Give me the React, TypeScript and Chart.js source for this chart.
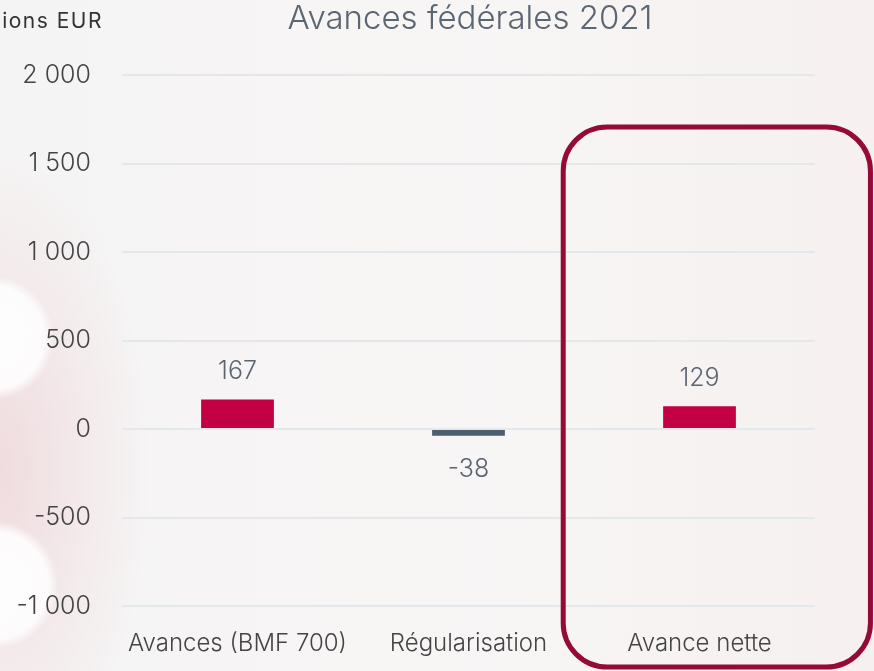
import React, { useEffect, useRef } from "react";
import { Chart, registerables } from "chart.js";

Chart.register(...registerables);

const categories = ["Avances (BMF 700)", "Régularisation", "Avance nette"];
const values = [167, -38, 129];
const barColors = ["#c40044", "#4d5d6b", "#c40044"];
const chartTitle = "Avances fédérales 2021";
const unitLabel = "Millions EUR";
const yMin = -1000;
const yMax = 2000;
const yStep = 500;
const highlightIndex = 2;

const FONT = "Inter, 'Open Sans', sans-serif";

function fmt(v: number): string {
  const s = Math.abs(v).toString().replace(/\B(?=(\d{3})+(?!\d))/g, " ");
  return (v < 0 ? "-" : "") + s;
}

const overlayPlugin = {
  id: "overlay",
  afterDatasetsDraw(chart: any) {
    const ctx = chart.ctx;
    const area = chart.chartArea;
    const meta = chart.getDatasetMeta(0);
    ctx.save();
    // value labels
    ctx.font = `300 25px ${FONT}`;
    ctx.fillStyle = "#5b6673";
    ctx.textAlign = "center";
    ctx.textBaseline = "middle";
    meta.data.forEach((bar: any, i: number) => {
      const v = values[i];
      const y = v >= 0 ? bar.y - 28 : bar.y + 34;
      ctx.fillText(fmt(v), bar.x, y);
    });
    // title
    ctx.font = `300 33px ${FONT}`;
    ctx.fillStyle = "#5b6673";
    ctx.fillText(chartTitle, 470, 19);
    // unit
    ctx.font = `400 21px ${FONT}`;
    ctx.fillStyle = "#333333";
    ctx.textAlign = "right";
    try {
      (ctx as any).letterSpacing = "1.5px";
    } catch (e) {}
    ctx.fillText(unitLabel, 103, 22);
    try {
      (ctx as any).letterSpacing = "0px";
    } catch (e) {}
    // highlight box
    const xs = chart.scales.x;
    const cw = (area.right - area.left) / categories.length;
    const cx = xs.getPixelForValue(highlightIndex);
    const left = cx - cw * 0.59;
    const right = cx + cw * 0.74;
    const top = 127;
    const bottom = 667;
    ctx.lineWidth = 5;
    ctx.strokeStyle = "#960a36";
    ctx.beginPath();
    ctx.roundRect(left, top, right - left, bottom - top, 44);
    ctx.stroke();
    ctx.restore();
  },
};

export default function App() {
  const ref = useRef<HTMLCanvasElement | null>(null);
  useEffect(() => {
    if (!ref.current) return;
    const chart = new Chart(ref.current, {
      type: "bar",
      data: {
        labels: categories,
        datasets: [
          {
            data: values,
            backgroundColor: barColors,
            barPercentage: 0.315,
            categoryPercentage: 1,
          },
        ],
      },
      options: {
        animation: false,
        responsive: false,
        maintainAspectRatio: false,
        layout: { padding: { left: 0, right: 59, top: 75, bottom: 0 } },
        plugins: { legend: { display: false }, tooltip: { enabled: false }, title: { display: false } },
        scales: {
          x: {
            afterFit: (s: any) => {
              s.height = 65;
            },
            grid: { display: false, drawTicks: false },
            border: { display: false },
            ticks: { color: "#444444", font: { family: FONT, size: 24, weight: "300" as any }, padding: 23 },
          },
          y: {
            min: yMin,
            max: yMax,
            afterFit: (s: any) => {
              s.width = 122;
            },
            grid: { color: "#e3e8ec", lineWidth: 2, drawTicks: false },
            border: { display: false },
            ticks: {
              stepSize: yStep,
              padding: 31,
              color: "#444444",
              font: { family: FONT, size: 25, weight: "300" as any },
              callback: (v: any) => fmt(Number(v)),
            },
          },
        },
      },
      plugins: [overlayPlugin],
    });
    return () => chart.destroy();
  }, []);
  return (
    <div
      style={{
        position: "fixed",
        left: 0,
        top: 0,
        width: 874,
        height: 671,
        background:
          "radial-gradient(circle at -8px 338px, rgba(255,255,255,0.97) 0px, rgba(255,255,255,0.85) 52px, rgba(255,255,255,0) 62px), radial-gradient(circle at -6px 585px, rgba(255,255,255,0.97) 0px, rgba(255,255,255,0.85) 54px, rgba(255,255,255,0) 64px), radial-gradient(ellipse 150px 320px at 0px 470px, rgba(236,200,205,0.55), rgba(236,200,205,0)), linear-gradient(90deg, #f5f4f4 0%, #f8f5f5 60%, #f6f0f0 100%)",
      }}
    >
      <canvas ref={ref} width={874} height={671} style={{ display: "block" }} />
    </div>
  );
}
